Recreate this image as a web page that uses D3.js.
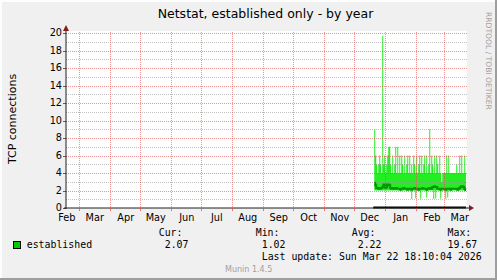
<!DOCTYPE html>
<html><head><meta charset="utf-8">
<script src="https://cdn.jsdelivr.net/npm/d3@7"></script>
<style>html,body{margin:0;padding:0;background:#f0f0f0;}svg{display:block;}</style>
</head><body><svg id="c" width="497" height="280"></svg>
<script>
// ---------- data ----------
const title = "Netstat, established only - by year";
const yLabel = "TCP connections";
const seriesName = "established";
const rangeStart = new Date(Date.UTC(2025, 1, 15, 18, 10, 4));
const rangeEnd = new Date(Date.UTC(2026, 2, 22, 18, 10, 4));
const dataStart = new Date(Date.UTC(2025, 11, 21));
const yMajorTicks = [0, 2, 4, 6, 8, 10, 12, 14, 16, 18, 20];
const yMinorTicks = [1, 3, 5, 7, 9, 11, 13, 15, 17, 19];
// daily maxima (Dec 21 2025 .. Mar 22 2026)
const maxVals = [9, 6, 5, 4, 5, 6, 5, 4, 19.67, 5, 6, 4, 5, 6, 7, 7, 5, 4, 6, 4,
  5, 7, 4, 7, 4, 6, 4, 6, 5, 4, 6, 4, 5, 6, 4, 6, 4, 5, 4, 6,
  5, 4, 6, 4, 5, 6, 4, 6, 4, 5, 6, 4, 6, 4, 5, 9, 4, 6, 5, 4,
  6, 4, 6, 5, 4, 6, 4, 3, 4, 4, 4, 4, 6, 4, 6, 4, 4, 4, 4, 4,
  4, 4, 5, 4, 4, 6, 4, 6, 4, 4, 6, 4];
// daily minima
const minVals = [2, 2, 2, 2, 2, 2, 2, 2, 2, 2, 2, 2, 2, 2, 2, 2, 2, 2, 2, 2,
  2, 2, 2, 2, 2, 2, 2, 2, 2, 2, 2, 2, 2, 2, 2, 2, 2, 1.02, 2, 2,
  2, 1.1, 2, 2, 2, 2, 1.05, 2, 2, 2, 2, 2, 1.2, 2, 2, 2, 2, 2, 2, 1.03,
  2, 1.1, 2, 2, 2, 2, 1.1, 2, 2, 2, 2, 1.05, 2, 1.2, 2, 2, 2, 2, 2, 2,
  2, 2, 2, 2, 2, 2, 2, 2, 2, 2, 2, 2];
// daily averages
const avgVals = [2.9, 2.6, 2.3, 2.3, 2.2, 2.3, 2.2, 2.3, 2.4, 2.7, 2.7, 2.3, 2.4, 2.7, 2.7, 2.6, 2.3, 2.2, 2.2, 2.3,
  2.2, 2.2, 2.3, 2.2, 2.2, 2.2, 2.1, 2.2, 2.2, 2.3, 2.2, 2.2, 2.2, 2.1, 2.2, 2.2, 2.2, 2.1, 2.2, 2.2,
  2.3, 2.2, 2.2, 2.2, 2.1, 2.2, 2.2, 2.2, 2.3, 2.2, 2.2, 2.2, 2.1, 2.2, 2.2, 2.3, 2.2, 2.2, 2.4, 2.4,
  2.5, 2.4, 2.4, 2.2, 2.2, 2.2, 2.1, 2.2, 2.2, 2.2, 2.2, 2.1, 2.2, 2.2, 2.2, 2.2, 2.1, 2.2, 2.2, 2.2,
  2.2, 2.2, 2.2, 2.1, 2.2, 2.3, 2.4, 2.5, 2.5, 2.4, 2.2, 2.07];
const legendHeaders = ["Cur:", "Min:", "Avg:", "Max:"];
const legendValues = ["2.07", "1.02", "2.22", "19.67"];
const lastUpdate = "Last update: Sun Mar 22 18:10:04 2026";
const footer = "Munin 1.4.5";
const watermark = "RRDTOOL / TOBI OETIKER";

// ---------- layout ----------
const W = 497, H = 280;
const svg = d3.select("#c");
const x = d3.scaleUtc().domain([rangeStart, rangeEnd]).range([66, 466]);
const y = d3.scaleLinear().domain([0, 20]).range([208, 33]);
const C = {
  bg: "#f0f0f0", canvas: "#ffffff", grid: "rgba(143,143,143,0.55)",
  mgrid: "rgba(222,79,79,0.6)", axis: "#1f1f1f", arrow: "#801f1f",
  band: "#22ee22", avg: "#009a00", legend: "#00cc00"
};
const sans = "'DejaVu Sans', Verdana, sans-serif";
const mono = "'DejaVu Sans Mono', monospace";

svg.append("rect").attr("width", W).attr("height", H).attr("fill", C.bg);
// shading border
svg.append("rect").attr("x", 0).attr("y", 0).attr("width", W).attr("height", 2).attr("fill", "#fdfdfd");
svg.append("rect").attr("x", 0).attr("y", 0).attr("width", 2).attr("height", H).attr("fill", "#fdfdfd");
svg.append("rect").attr("x", 0).attr("y", H - 2).attr("width", W).attr("height", 2).attr("fill", "#9e9e9e");
svg.append("rect").attr("x", W - 2).attr("y", 0).attr("width", 2).attr("height", H).attr("fill", "#9e9e9e");

// canvas
svg.append("rect").attr("x", x.range()[0]).attr("y", y(20) - 2)
  .attr("width", x.range()[1] - x.range()[0] + 1).attr("height", y(0) - y(20) + 2)
  .attr("fill", C.canvas);

// data
const days = maxVals.map((v, i) => ({
  date: d3.utcDay.offset(dataStart, i), max: v, min: minVals[i], avg: avgVals[i]
}));
const ext = days.concat([{ date: rangeEnd, max: maxVals[maxVals.length - 1], min: minVals[minVals.length - 1], avg: avgVals[avgVals.length - 1] }]);

svg.append("path").datum(ext)
  .attr("d", d3.area().curve(d3.curveStepAfter).x(d => x(d.date)).y0(d => y(d.min)).y1(d => y(d.max)))
  .attr("fill", C.band);
svg.append("path").datum(ext)
  .attr("d", d3.line().curve(d3.curveStepAfter).x(d => x(d.date)).y(d => y(d.avg)))
  .attr("fill", "none").attr("stroke", C.avg).attr("stroke-width", 2);

// grid (drawn over data like rrdtool)
const g = svg.append("g");
const gx0 = x.range()[0], gx1 = x.range()[1] + 2;
g.selectAll(".hmin").data(yMinorTicks).join("line")
  .attr("x1", gx0).attr("x2", gx1)
  .attr("y1", d => Math.round(y(d)) + 0.5).attr("y2", d => Math.round(y(d)) + 0.5)
  .attr("stroke", C.grid).attr("stroke-dasharray", "1,1");
g.selectAll(".hmaj").data(yMajorTicks.filter(d => d > 0)).join("line")
  .attr("x1", gx0).attr("x2", gx1)
  .attr("y1", d => Math.round(y(d)) + 0.5).attr("y2", d => Math.round(y(d)) + 0.5)
  .attr("stroke", C.mgrid).attr("stroke-dasharray", "1,1");
const months = d3.utcMonth.range(d3.utcMonth.ceil(rangeStart), rangeEnd);
g.selectAll(".vmaj").data(months).join("line")
  .attr("x1", d => Math.round(x(d)) + 0.5).attr("x2", d => Math.round(x(d)) + 0.5)
  .attr("y1", y(0) + 3).attr("y2", y(20) - 2)
  .attr("stroke", C.mgrid).attr("stroke-dasharray", "1,1");

// zero line where data exists
svg.append("line")
  .attr("x1", x(dataStart) - 1).attr("x2", x(rangeEnd))
  .attr("y1", y(0) - 0.5).attr("y2", y(0) - 0.5)
  .attr("stroke", "#000").attr("stroke-width", 2);

// axes
svg.append("line").attr("x1", x.range()[0]).attr("x2", x.range()[0])
  .attr("y1", y(0) + 1).attr("y2", y(20) - 5).attr("stroke", C.axis);
svg.append("line").attr("x1", x.range()[0] - 2).attr("x2", x.range()[1] + 4)
  .attr("y1", y(0)).attr("y2", y(0)).attr("stroke", C.axis);
const ax = x.range()[0], ay = y(20);
svg.append("path").attr("d", `M${ax - 3},${ay - 2}L${ax + 3},${ay - 2}L${ax},${ay - 8}Z`).attr("fill", C.arrow);
const bx = x.range()[1], by = y(0);
svg.append("path").attr("d", `M${bx + 3},${by - 3}L${bx + 3},${by + 3}L${bx + 8},${by}Z`).attr("fill", C.arrow);
// y ticks
svg.selectAll(".yt").data(yMajorTicks).join("line")
  .attr("x1", ax - 3).attr("x2", ax).attr("y1", d => Math.round(y(d)) + 0.5).attr("y2", d => Math.round(y(d)) + 0.5)
  .attr("stroke", C.axis).attr("stroke-opacity", 0.7);
svg.selectAll(".ytl").data(yMajorTicks).join("text")
  .attr("x", ax - 4).attr("y", d => y(d)).attr("dy", "0.36em")
  .attr("text-anchor", "end").attr("font-family", sans).attr("font-size", 9.72).attr("fill", "#000")
  .text(d => d);
// x ticks & labels
svg.selectAll(".xt").data(months).join("line")
  .attr("x1", d => Math.round(x(d)) + 0.5).attr("x2", d => Math.round(x(d)) + 0.5)
  .attr("y1", y(0)).attr("y2", y(0) + 3).attr("stroke", C.mgrid);
const labelMonths = d3.utcMonth.range(d3.utcMonth.floor(rangeStart), rangeEnd);
svg.selectAll(".xtl").data(labelMonths).join("text")
  .attr("x", d => x(new Date(d.getTime() + 15.5 * 864e5))).attr("y", y(0) + 13)
  .attr("text-anchor", "middle").attr("font-family", sans).attr("font-size", 9.72).attr("fill", "#000")
  .text(d => d3.utcFormat("%b")(d));

// title & labels
svg.append("text").attr("x", 265.5).attr("y", 18).attr("text-anchor", "middle")
  .attr("font-family", sans).attr("font-size", 12.5).attr("fill", "#000").text(title);
svg.append("text").attr("transform", "translate(15.5,119) rotate(-90)").attr("text-anchor", "middle")
  .attr("font-family", sans).attr("font-size", 11).attr("fill", "#000").text(yLabel);
svg.append("text").attr("transform", "translate(485.5,12) rotate(90)").attr("text-anchor", "start")
  .attr("font-family", sans).attr("font-size", 7.6).attr("fill", "#a0a0a0").text(watermark);

// legend
svg.append("rect").attr("x", 13.5).attr("y", 241.5).attr("width", 7).attr("height", 7)
  .attr("fill", C.legend).attr("stroke", "#000");
svg.append("text").attr("x", 26.7).attr("y", 247.5).attr("font-family", mono).attr("font-size", 9.9)
  .attr("fill", "#000").text(seriesName);
const colX = [158.7, 255.7, 351.7, 447.5];
const charW = 9.9 * 0.602;
svg.selectAll(".lh").data(legendHeaders).join("text")
  .attr("x", (d, i) => colX[i]).attr("y", 236).attr("font-family", mono).attr("font-size", 9.9)
  .attr("fill", "#000").text(d => d);
svg.selectAll(".lv").data(legendValues).join("text")
  .attr("x", (d, i) => colX[i] + 5 * charW).attr("y", 247.5).attr("text-anchor", "end")
  .attr("font-family", mono).attr("font-size", 9.9).attr("fill", "#000").text(d => d);
svg.append("text").attr("x", 261.7).attr("y", 260).attr("font-family", mono).attr("font-size", 9.9)
  .attr("fill", "#000").text(lastUpdate);
svg.append("text").attr("x", 225).attr("y", 271.5).attr("font-family", sans).attr("font-size", 8)
  .attr("fill", "#a0a0a0").text(footer);
</script></body></html>
